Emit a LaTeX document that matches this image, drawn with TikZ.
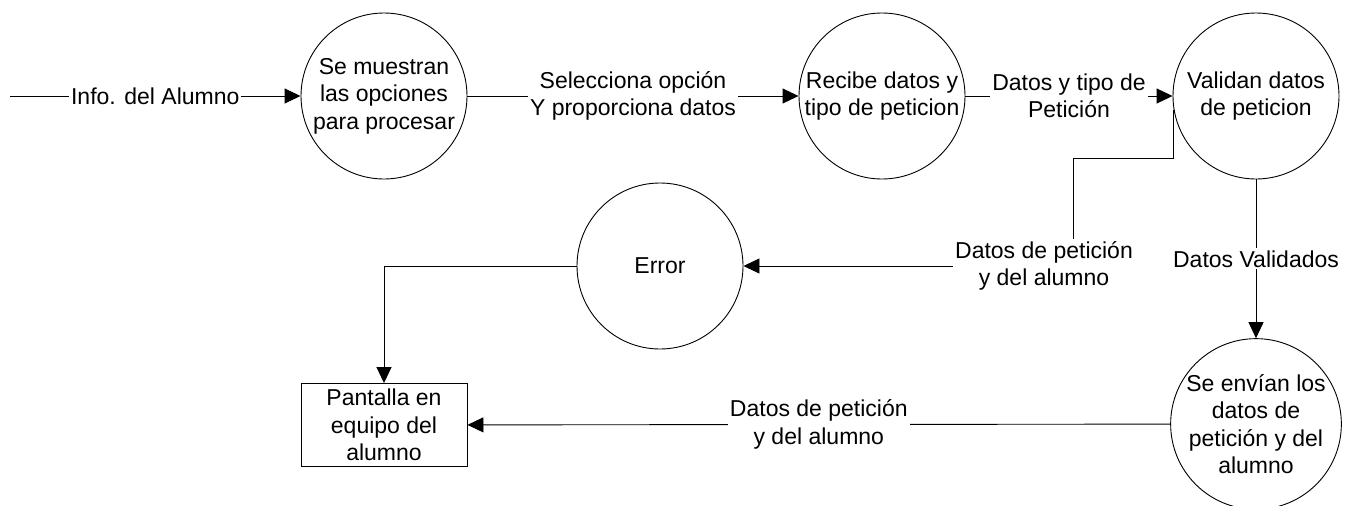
\documentclass[tikz,border=0pt]{standalone}
\usepackage{fontspec}
\setmainfont{Liberation Sans}
\usetikzlibrary{arrows.meta,positioning,calc}

\begin{document}
\begin{tikzpicture}[x=1pt,y=-1pt,
  process/.style={circle,draw,line width=0.9pt,minimum size=166pt,inner sep=0pt,align=center},
  store/.style={rectangle,draw,line width=0.9pt,minimum width=166pt,minimum height=83pt,inner sep=0pt,align=center},
  flow/.style={line width=0.9pt,-{Triangle[length=16pt,width=15pt]}},
  lbl/.style={fill=white,inner sep=2pt,align=center},
  every node/.style={font=\fontsize{23}{27.5}\selectfont}]
\useasboundingbox (0,0) rectangle (1358,506);

\node(c1)[process] at (384,96) {Se muestran\\las opciones\\para procesar};
\node(c2)[process] at (882,96) {Recibe datos y\\tipo de peticion};
\node(c3)[process] at (1256,96) {Validan datos\\de peticion};
\node(c4)[process] at (660,266) {Error};
\node(c5)[process] at (1256,424) {Se envían los\\datos de\\petición y del\\alumno};
\node(pant)[store] at (384,425) {Pantalla en\\equipo del\\alumno};
\coordinate(in) at (10,96);

\draw [flow] (in) -- node[lbl](l1){Info. del Alumno} (c1);
\draw [flow] (c1) -- node[lbl](l2){Selecciona opción\\Y proporciona datos} (c2);
\draw [flow] (c2) -- node[lbl](l3){Datos y tipo de\\Petición} (c3);
\draw [flow] (c3.190) |- (1073,158) |- (c4);
\node(l4)[lbl] at (1044,266) {Datos de petición\\y del alumno};
\draw [flow] (c3) -- node[lbl](l5){Datos Validados} (c5);
\draw [flow] (c5) -- node[lbl](l6){Datos de petición\\y del alumno} (pant);
\draw [flow] (c4) -| (pant);
\end{tikzpicture}
\end{document}
